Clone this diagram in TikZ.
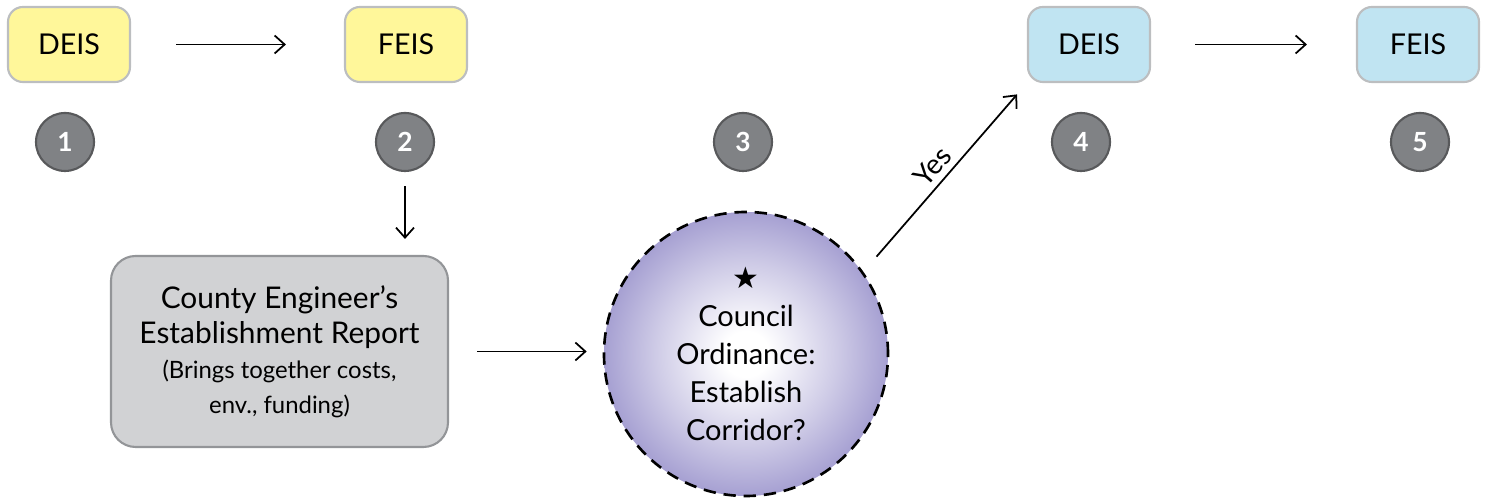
\documentclass[tikz,border=0pt]{standalone}
\usepackage{fontspec}
\setmainfont{Lato}
\newfontfamily\starfont{DejaVu Sans}
\usetikzlibrary{arrows.meta}
\definecolor{draftyellow}{HTML}{FFF79A}
\definecolor{finalblue}{HTML}{C0E4F2}
\definecolor{boxedge}{HTML}{BCBEC0}
\definecolor{reportgrey}{HTML}{D1D2D4}
\definecolor{reportedge}{HTML}{939598}
\definecolor{stepgrey}{HTML}{808285}
\definecolor{stepedge}{HTML}{58595B}
\definecolor{councilviolet}{HTML}{A6A0D2}
\pgfdeclareradialshading{councilglow}{\pgfpoint{0bp}{0bp}}{color(0bp)=(white); color(4bp)=(white); color(16bp)=(councilviolet!55); color(25bp)=(councilviolet); color(50bp)=(councilviolet)}
\newcommand\reportnote{\fontsize{13.6}{18}\selectfont}

\begin{document}
\begin{tikzpicture}[
    eis/.style={draw=boxedge,line width=1.2pt,rounded corners=8.5pt,minimum width=2.44cm,minimum height=1.5cm,font=\fontsize{16.3}{18}\selectfont},
    stepnum/.style={circle,draw=stepedge,line width=1.2pt,fill=stepgrey,text=white,minimum size=1.16cm,inner sep=0pt,font=\bfseries\fontsize{15}{18}\selectfont},
    flow/.style={-{Straight Barb[length=2mm,width=3.6mm]},line width=1pt}]
    \useasboundingbox (0,0) rectangle (29.72,10);
    \node[eis,fill=draftyellow] (deisA) at (1.38,9.11) {DEIS};
    \node[eis,fill=draftyellow] (feisA) at (8.12,9.11) {FEIS};
    \node[eis,fill=finalblue] (deisB) at (21.78,9.11) {DEIS};
    \node[eis,fill=finalblue] (feisB) at (28.36,9.11) {FEIS};
    \node[stepnum] (num1) at (1.30,7.16) {1};
    \node[stepnum] (num2) at (8.10,7.16) {2};
    \node[stepnum] (num3) at (14.86,7.16) {3};
    \node[stepnum] (num4) at (21.62,7.16) {4};
    \node[stepnum] (num5) at (28.40,7.16) {5};
    \node[draw=reportedge,fill=reportgrey,line width=1.2pt,rounded corners=14pt,minimum width=6.74cm,minimum height=3.82cm,align=center,font=\fontsize{17}{20}\selectfont] (report) at (5.59,2.97)
        {County Engineer’s\\Establishment Report\\{\reportnote (Brings together costs,}\\{\reportnote env., funding)}};
    \node[circle,draw,line width=1.5pt,dash pattern=on 7pt off 4.5pt,shading=councilglow,minimum size=5.68cm,align=center,font=\fontsize{16.5}{21.6}\selectfont] (decision) at (14.92,2.92)
        {{\starfont\fontsize{17}{21.6}\selectfont ★}\\Council\\Ordinance:\\Establish\\Corridor?};
    \draw[flow,shorten <=0.9cm,shorten >=1.16cm] (deisA.east) -- (feisA.west);
    \draw[flow,shorten <=0.88cm,shorten >=0.98cm] (deisB.east) -- (feisB.west);
    \draw[flow,shorten <=0.28cm,shorten >=0.32cm] (num2.south) -- (num2.south |- report.north);
    \draw[flow,shorten <=0.56cm,shorten >=0.32cm] (report.east) -- (report.east -| decision.west);
    \draw[flow,shorten <=0.4cm,shorten >=0.3cm] (decision.35) -- node[sloped,above,pos=0.5,font=\fontsize{16}{18}\selectfont]{Yes} (deisB.south west);
\end{tikzpicture}
\end{document}
